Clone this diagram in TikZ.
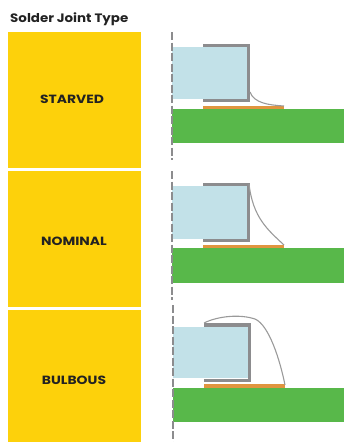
\documentclass[tikz,border=0pt]{standalone}
\usepackage{fontspec}
\setmainfont{Poppins}
\newfontfamily\widefont[FakeStretch=1.17]{Poppins}
\newfontfamily\titlefont[FakeStretch=1.1]{Poppins}
\definecolor{yel}{HTML}{FDD10B}
\definecolor{blu}{HTML}{C2E1E8}
\definecolor{gry}{HTML}{8C8C8E}
\definecolor{grn}{HTML}{58B84A}
\definecolor{org}{HTML}{E0953F}
\definecolor{ink}{HTML}{222222}
\definecolor{sold}{HTML}{9A9A9A}
\tikzset{x=1pt,y=-1pt,
 band/.style={fill=yel,draw=none,inner sep=0,minimum width=133pt,anchor=north west},
 lab/.style={font=\widefont\bfseries\fontsize{11.9}{14}\selectfont,text=ink,inner sep=0},
 axis/.style={draw=gry,line width=1.2pt,dash pattern=on 8pt off 2.5pt},
 solder/.style={draw=sold,line width=1.1pt},
 termcap/.style={draw=gry,line width=3.4pt,miter limit=10}}
\begin{document}
\begin{tikzpicture}
\useasboundingbox (0,0) rectangle (344,442);
\node[anchor=west,inner sep=0,font=\titlefont\bfseries\fontsize{12.2}{14}\selectfont,text=ink] (title) at (10,19) {Solder Joint Type};
\node[band,minimum height=136pt] (b1) at (8,32) {};
\node[band,minimum height=136pt] (b2) at (8,171) {};
\node[band,minimum height=132pt] (b3) at (8,310) {};
\node[lab] (l1) at (72,99.5) {STARVED};
\node[lab] (l2) at (74,241) {NOMINAL};
\node[lab] (l3) at (74,380) {BULBOUS};
% row 1
\fill[blu] (172,47) rectangle (247,99);
\draw[termcap] (203,45.7) -- (248.3,45.7) -- (248.3,100.7) -- (203,100.7);
\fill[org] (203,106) rectangle (284,109);
\fill[grn] (172,109) rectangle (344,143);
\draw[solder] (250,92) .. controls (254,103) and (268,105) .. (284,106);
\draw[axis] (172,32) -- (172,160);
% row 2
\fill[blu] (172,186) rectangle (247,239);
\draw[termcap] (203,184.7) -- (248.3,184.7) -- (248.3,240.7) -- (203,240.7);
\fill[org] (203,245) rectangle (284,248);
\fill[grn] (172,248) rectangle (344,283);
\draw[solder] (249,184) .. controls (253,218) and (268,230) .. (284,245);
\draw[axis] (172,171) -- (172,300);
% row 3
\fill[blu] (173,327) rectangle (248,378);
\draw[termcap] (204,325) -- (249.5,325) -- (249.5,380.5) -- (204,380.5);
\fill[org] (204,384) rectangle (285,388);
\fill[grn] (173,388) rectangle (344,422);
\draw[solder] (204,323) .. controls (218,316) and (240,314) .. (255,319) .. controls (269,325) and (280,360) .. (285,385);
\draw[axis] (173,305) -- (173,442);
\end{tikzpicture}
\end{document}
